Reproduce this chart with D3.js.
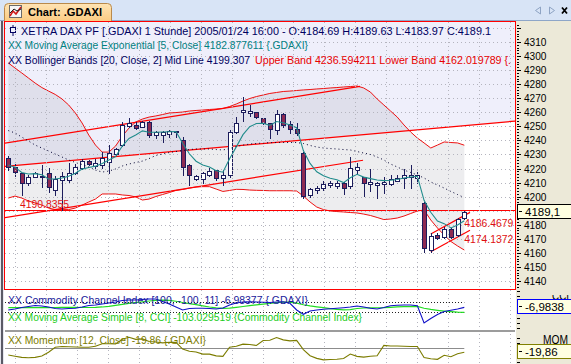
<!DOCTYPE html>
<html>
<head>
<meta charset="utf-8">
<script src="https://cdn.jsdelivr.net/npm/d3@7/dist/d3.min.js"></script>
<style>
  html, body { margin: 0; padding: 0; background: #ece9d8; }
  svg { display: block; font-family: "Liberation Sans", Arial, sans-serif; }
</style>
</head>
<body>
<div id="chart"></div>
<script>
// .GDAXI hourly bars, last bar 2005/01/24 16:00
const opens = [4227.3, 4221.3, 4216.6, 4209.9, 4214.2, 4214.7, 4216.6, 4204.7, 4211.8, 4211.8,
  4216.6, 4220.6, 4225.3, 4222.0, 4222.5, 4224.8, 4230.1, 4236.7, 4250.5, 4251.0,
  4249.8, 4253.3, 4243.8, 4243.8, 4244.5, 4246.2, 4240.3, 4222.5, 4212.3, 4212.3,
  4215.4, 4218.9, 4213.1, 4215.4, 4246.2, 4260.0, 4259.3, 4260.4, 4255.7, 4252.2,
  4247.4, 4258.6, 4251.5, 4247.9, 4231.3, 4201.2, 4204.7, 4205.9, 4208.3, 4207.6,
  4209.5, 4207.6, 4218.9, 4213.8, 4208.9, 4208.3, 4208.9, 4208.9, 4211.3, 4213.1,
  4213.8, 4213.1, 4195.7, 4162.0, 4172.7, 4171.1, 4176.8, 4172.7, 4184.69];
const highs = [4228.9, 4223.0, 4216.8, 4215.4, 4217.7, 4222.5, 4220.2, 4214.7, 4217.7, 4223.9,
  4223.2, 4226.5, 4226.1, 4226.5, 4232.0, 4236.7, 4234.6, 4252.9, 4255.7, 4252.9,
  4254.0, 4254.0, 4246.9, 4246.9, 4247.4, 4246.9, 4242.6, 4223.2, 4215.4, 4217.7,
  4220.2, 4218.9, 4218.9, 4247.4, 4256.4, 4270.7, 4265.2, 4260.4, 4256.1, 4252.6,
  4261.6, 4259.3, 4254.0, 4252.2, 4232.0, 4205.9, 4207.6, 4210.9, 4210.8, 4211.1,
  4210.6, 4228.4, 4224.1, 4214.2, 4219.4, 4210.6, 4213.8, 4215.4, 4215.4, 4219.4,
  4222.5, 4217.7, 4196.4, 4173.9, 4173.9, 4178.6, 4177.9, 4184.6, 4189.63];
const lows = [4218.9, 4214.7, 4201.2, 4208.3, 4213.8, 4207.1, 4203.5, 4201.2, 4190.84, 4210.6,
  4216.1, 4219.6, 4222.5, 4220.2, 4220.2, 4216.6, 4229.6, 4236.0, 4249.8, 4247.9,
  4249.3, 4242.6, 4241.5, 4239.1, 4242.6, 4242.6, 4215.4, 4208.3, 4211.8, 4209.5,
  4214.7, 4211.8, 4208.3, 4214.2, 4245.5, 4254.0, 4257.6, 4255.7, 4251.7, 4241.5,
  4244.3, 4249.8, 4245.1, 4243.8, 4198.8, 4199.5, 4202.6, 4205.0, 4206.6, 4205.9,
  4201.7, 4206.4, 4217.0, 4200.5, 4204.2, 4199.2, 4202.4, 4208.3, 4211.3, 4205.9,
  4205.9, 4209.5, 4160.8, 4160.8, 4169.7, 4170.4, 4170.4, 4172.0, 4183.97];
const closes = [4221.3, 4217.7, 4209.9, 4213.8, 4217.0, 4214.0, 4206.6, 4212.5, 4214.7, 4217.0,
  4220.9, 4225.3, 4223.0, 4223.7, 4227.3, 4230.8, 4233.7, 4251.0, 4252.2, 4248.6,
  4252.9, 4243.8, 4245.8, 4246.2, 4246.7, 4246.7, 4221.3, 4215.4, 4214.7, 4217.0,
  4218.2, 4213.1, 4215.4, 4246.2, 4252.2, 4261.6, 4260.9, 4256.4, 4252.6, 4247.9,
  4258.6, 4251.0, 4247.9, 4245.1, 4200.5, 4205.2, 4205.9, 4208.8, 4209.9, 4209.9,
  4205.9, 4220.2, 4220.9, 4209.9, 4210.6, 4209.9, 4210.6, 4212.3, 4213.1, 4215.4,
  4215.4, 4215.4, 4163.2, 4172.0, 4170.4, 4176.8, 4171.5, 4183.9, 4189.1];

// EMA(5) as drawn
const emaLine = [4222.5, 4221.0, 4217.2, 4216.1, 4216.4, 4215.6, 4212.6, 4212.6, 4213.3, 4214.5,
  4216.7, 4219.6, 4220.7, 4221.7, 4223.6, 4226.0, 4228.5, 4236.0, 4241.4, 4243.8,
  4246.8, 4245.8, 4245.8, 4246.0, 4246.2, 4246.3, 4238.0, 4230.5, 4225.2, 4222.5,
  4221.1, 4218.4, 4217.4, 4227.0, 4235.4, 4244.1, 4249.8, 4252.0, 4252.2, 4250.7,
  4253.4, 4252.6, 4251.0, 4249.0, 4232.8, 4223.6, 4217.7, 4214.8, 4213.1, 4212.0,
  4210.0, 4213.4, 4215.9, 4213.9, 4212.8, 4211.8, 4211.4, 4211.7, 4212.2, 4213.3,
  4214.0, 4214.5, 4197.4, 4188.9, 4182.7, 4180.8, 4177.7, 4179.8, 4182.88];

// Bollinger bands (20, 2)
const bandUpper = [4295.1, 4291.5, 4288.0, 4284.4, 4280.8, 4277.6, 4275.1, 4272.7, 4269.5, 4265.2,
  4259.5, 4252.4, 4243.8, 4236.7, 4231.7, 4231.7, 4236.0, 4243.1, 4248.8, 4253.1,
  4255.2, 4256.6, 4257.4, 4258.4, 4259.5, 4259.8, 4260.2, 4260.9, 4261.3, 4261.6,
  4262.0, 4262.3, 4262.7, 4264.1, 4265.9, 4268.0, 4269.8, 4271.2, 4272.3, 4273.4,
  4274.1, 4274.8, 4275.1, 4275.5, 4275.9, 4276.2, 4276.6, 4276.9, 4277.3, 4277.6,
  4278.0, 4278.3, 4278.7, 4277.3, 4274.4, 4269.5, 4265.2, 4260.9, 4256.6, 4251.0,
  4246.0, 4241.7, 4238.2, 4234.6, 4236.7, 4238.9, 4238.5, 4238.2, 4236.59];
const bandMid = [4247.0, 4245.3, 4242.4, 4239.6, 4236.7, 4234.6, 4232.5, 4230.3, 4228.2, 4226.1,
  4224.3, 4222.9, 4221.1, 4218.9, 4217.5, 4218.2, 4219.7, 4221.8, 4223.2, 4224.3,
  4225.3, 4227.1, 4229.3, 4230.3, 4231.4, 4232.1, 4232.8, 4233.5, 4233.9, 4233.9,
  4233.9, 4233.5, 4233.2, 4234.2, 4235.7, 4236.7, 4237.4, 4237.8, 4238.2, 4238.4,
  4238.5, 4238.5, 4238.5, 4238.5, 4237.8, 4236.4, 4235.3, 4234.6, 4234.2, 4233.9,
  4233.5, 4233.2, 4232.1, 4231.0, 4230.0, 4228.2, 4226.1, 4223.2, 4221.1, 4218.9,
  4217.2, 4215.4, 4213.3, 4210.4, 4208.3, 4206.1, 4203.7, 4201.5, 4199.307];
const bandLower = [4199.0, 4200.4, 4199.0, 4196.9, 4195.5, 4194.0, 4191.9, 4190.8, 4190.8, 4190.8,
  4191.9, 4194.0, 4196.2, 4198.3, 4201.9, 4201.9, 4201.9, 4201.2, 4200.8, 4199.8,
  4197.6, 4198.3, 4200.1, 4201.5, 4202.9, 4204.4, 4205.1, 4206.1, 4206.9, 4207.1,
  4207.1, 4205.4, 4203.7, 4204.4, 4205.2, 4205.1, 4204.7, 4204.5, 4204.4, 4204.2,
  4204.2, 4204.2, 4204.2, 4204.0, 4200.4, 4196.2, 4192.6, 4190.8, 4189.8, 4189.4,
  4189.1, 4188.7, 4188.4, 4187.6, 4186.6, 4185.2, 4183.7, 4184.1, 4184.8, 4186.2,
  4188.0, 4189.8, 4190.5, 4183.4, 4177.7, 4172.7, 4168.1, 4164.9, 4162.02];

// CCI (100, -100, 11) and its 8-bar average
const cciValues = [-56.6, -37.7, -9.4, 9.4, 28.3, 18.9, 0, -28.3, -37.7, -28.3,
  -24.5, 0, 28.3, 37.7, 56.6, 75.5, 94.3, 122.6, 132.1, 132.1,
  141.5, 151.0, 151.0, 103.8, 56.6, 0, -56.6, -28.3, -24.5, -24.5,
  -28.3, -37.7, -18.9, 37.7, 75.5, 94.3, 100.0, 94.3, 88.7, 84.9,
  94.3, 100.0, 69.8, -56.6, -137.7, -75.5, -56.6, -43.4, -34.0, -24.5,
  -13.2, 0, 18.9, 0, -24.5, -37.7, -9.4, 24.5, 32.1, 37.7,
  37.7, 24.5, -301.9, -217.0, -141.5, -84.9, -62.3, -37.7, -6.98];
const cciAverage = [-12, -12, -11, -11, -10, -10, -10, -9.4, -7.1, -5.9,
  -7.8, -9.0, -9.0, -6.6, 0.5, 13.5, 30.0, 48.8, 68.4, 84.9,
  99.1, 113.2, 125.0, 128.6, 123.8, 108.5, 84.9, 64.9, 44.1, 22.2,
  -0.2, -17.9, -27.4, -22.6, -6.1, 9.2, 24.8, 39.6, 54.2, 69.6,
  83.7, 91.5, 90.8, 71.9, 42.2, 21.0, 2.8, -13.2, -29.3, -44.8,
  -55.2, -48.1, -28.5, -19.1, -15.1, -14.4, -11.3, -5.2, 0.5, 5.2,
  7.6, 10.6, -24.1, -46.5, -63.0, -76.7, -88.5, -97.9, -103.03];

// Momentum (12, Close)
const momentum = [-32, -37, -42, -44, -42, -36, -20, 2, 5, 4,
  3, 2, 1.7, 6.0, 17.4, 17.0, 16.7, 37.0, 45.6, 36.1,
  38.2, 26.8, 24.9, 20.9, 23.7, 23.0, -6.0, -15.4, -19.0, -28.0,
  -28.0, -35.5, -37.5, 2.4, 6.4, 15.4, 14.2, 9.7, 31.3, 32.5,
  43.9, 34.0, 29.7, 32.0, -8.0, -35.0, -46.3, -52.8, -51.0, -50.0,
  -46.7, -27.7, -37.7, -41.1, -37.3, -35.2, 10.1, 7.1, 7.2, 6.6,
  5.5, 5.5, -42.7, -48.2, -50.5, -33.1, -39.1, -26.0, -19.86];

// price axis levels
const priceTicks = [4310, 4300, 4290, 4280, 4270, 4260, 4250, 4240, 4230, 4220,
  4210, 4200, 4190, 4180, 4170, 4160, 4150, 4140];

// user drawings: [bar, price] end points
const trendLines = [
  [[-0.64, 4237.9], [52.45, 4278.4]],
  [[-0.64, 4221.4], [75.7, 4253.8]],
  [[-0.64, 4185.0], [52.9, 4225.9]],
  [[63, 4173.5], [68.85, 4188.8]],
  [[63, 4160.8], [68.85, 4176.1]]
];
const hLevel = 4190.8355;
const lineLabels = [
  { bar: 1.74, price: 4190.8355, dy: -2, text: '4190.8355' },
  { bar: 68, price: 4186.4679, dy: 11, text: '4186.4679' },
  { bar: 68, price: 4174.1372, dy: 10.3, text: '4174.1372' }
];

document.addEventListener('DOMContentLoaded', function() {
    const width = 571, height = 364;
    const navy = '#000060';
    const wick = '#1c1c5c';

    const svg = d3.select('#chart')
        .append('svg')
        .attr('width', width)
        .attr('height', height);

    // Scales
    const x = d3.scaleLinear().domain([0, 68]).range([8.3, 464.3]);
    const y = d3.scaleLinear().domain([4140, 4310]).range([281, 42]);
    const yCci = d3.scaleLinear().domain([-100, 100]).range([312.3, 301.7]);
    const yMom = d3.scaleLinear().domain([-20, 0]).range([352.3, 347.7]);
    const bars = d3.range(opens.length);

    const defs = svg.append('defs');
    defs.append('clipPath').attr('id', 'clip-main')
        .append('rect').attr('x', 5).attr('y', 22).attr('width', 510).attr('height', 267);
    defs.append('clipPath').attr('id', 'clip-low')
        .append('rect').attr('x', 5).attr('y', 291).attr('width', 510).attr('height', 73);
    defs.append('clipPath').attr('id', 'clip-cci-label')
        .append('rect').attr('x', 516).attr('y', 295).attr('width', 55).attr('height', 5.5);
    const tabGrad = defs.append('linearGradient').attr('id', 'tab-grad')
        .attr('x1', 0).attr('x2', 0).attr('y1', 0).attr('y2', 1);
    tabGrad.append('stop').attr('offset', '0%').attr('stop-color', '#ffe4b4');
    tabGrad.append('stop').attr('offset', '100%').attr('stop-color', '#fbcc84');

    // Tab bar
    svg.append('rect').attr('width', width).attr('height', 21).attr('fill', '#d8e4f6');
    svg.append('line').attr('x1', 0).attr('x2', width).attr('y1', 20.5).attr('y2', 20.5)
        .attr('stroke', '#8ea6c8');
    svg.append('path')
        .attr('d', 'M4.5,21 V7.5 Q4.5,3.5 8.5,3.5 H107.5 Q111.5,3.5 111.5,7.5 V21')
        .attr('fill', 'url(#tab-grad)').attr('stroke', '#b98a4c');
    // little chart icon
    svg.append('rect').attr('x', 9.5).attr('y', 5.5).attr('width', 12).attr('height', 12)
        .attr('fill', '#f6f6f6').attr('stroke', '#6a6a6a');
    svg.append('polyline').attr('points', '10,16 13,11 16,14 21,7')
        .attr('fill', 'none').attr('stroke', '#d01818').attr('stroke-width', 1.6);
    svg.append('polyline').attr('points', '10,13 14,9 17,11 21,9')
        .attr('fill', 'none').attr('stroke', '#202020').attr('stroke-width', 1);
    svg.append('text').attr('x', 28).attr('y', 15.5)
        .attr('font-size', '11.5px').attr('font-weight', 'bold').attr('fill', '#000')
        .attr('textLength', 74).attr('lengthAdjust', 'spacingAndGlyphs')
        .text('Chart: .GDAXI');
    // window buttons
    svg.append('path').attr('d', 'M540.5,7 L535.5,10.5 L540.5,14 Z')
        .attr('fill', 'none').attr('stroke', '#8fa4c4');
    svg.append('path').attr('d', 'M549.5,7 L554.5,10.5 L549.5,14 Z')
        .attr('fill', 'none').attr('stroke', '#8fa4c4');
    svg.append('path').attr('d', 'M562,7.5 L567,13.5 M567,7.5 L562,13.5')
        .attr('stroke', '#000').attr('stroke-width', 1.8);

    // Left frame
    svg.append('rect').attr('x', 0).attr('y', 21).attr('width', 4).attr('height', 343).attr('fill', '#e6e6ee');
    svg.append('line').attr('x1', 2).attr('x2', 2).attr('y1', 21).attr('y2', height)
        .attr('stroke', '#5a5a66').attr('stroke-width', 2);

    // Panel backgrounds
    svg.append('rect').attr('x', 4).attr('y', 21).attr('width', 512).attr('height', 343).attr('fill', '#ffffff');

    const main = svg.append('g').attr('clip-path', 'url(#clip-main)');
    const upperLine = trendLines[1];
    main.append('path')
        .attr('d', d3.line()([
            [x(upperLine[0][0]), 0], [x(upperLine[1][0]), 0],
            [x(upperLine[1][0]), y(upperLine[1][1])], [x(upperLine[0][0]), y(upperLine[0][1])]
        ]))
        .attr('fill', '#efeffb');

    // Bollinger band fill
    main.append('path')
        .datum(bars)
        .attr('d', d3.area()
            .x(i => x(i))
            .y0(i => y(bandLower[i]))
            .y1(i => y(bandUpper[i])))
        .attr('fill', '#6e6e7e').attr('fill-opacity', 0.12);

    // Grid
    const gridX = d3.range(1, 77, 4.614).map(b => Math.round(x(b)) + 0.5).filter(v => v < 515);
    main.append('g').selectAll('line').data(priceTicks.concat([4320])).enter().append('line')
        .attr('x1', 5).attr('x2', 515)
        .attr('y1', d => Math.round(y(d)) + 0.5).attr('y2', d => Math.round(y(d)) + 0.5)
        .attr('stroke', '#b4b4be').attr('stroke-dasharray', '1,3');
    svg.append('g').selectAll('line').data(gridX).enter().append('line')
        .attr('x1', d => d).attr('x2', d => d)
        .attr('y1', 22).attr('y2', height)
        .attr('stroke', '#b4b4be').attr('stroke-dasharray', '1,3');

    // Band lines
    const priceLine = arr => d3.line().x((d, i) => x(i)).y(d => y(d))(arr);
    main.append('path').attr('d', priceLine(bandUpper))
        .attr('fill', 'none').attr('stroke', '#ee1111');
    main.append('path').attr('d', priceLine(bandLower))
        .attr('fill', 'none').attr('stroke', '#ee1111');

    // Trend lines and level
    main.append('g').selectAll('line').data(trendLines).enter().append('line')
        .attr('x1', d => x(d[0][0])).attr('y1', d => y(d[0][1]))
        .attr('x2', d => x(d[1][0])).attr('y2', d => y(d[1][1]))
        .attr('stroke', '#ff0000').attr('stroke-width', 1.2);
    main.append('line')
        .attr('x1', 5).attr('x2', 515)
        .attr('y1', Math.round(y(hLevel)) + 0.5).attr('y2', Math.round(y(hLevel)) + 0.5)
        .attr('stroke', '#ff0000').attr('stroke-width', 1.2);

    // Candles
    const candles = bars.map(i => ({ i, o: opens[i], h: highs[i], l: lows[i], c: closes[i] }));
    const cg = main.append('g').attr('class', 'candles');
    cg.selectAll('line').data(candles).enter().append('line')
        .attr('x1', d => Math.round(x(d.i)) + 0.5).attr('x2', d => Math.round(x(d.i)) + 0.5)
        .attr('y1', d => Math.round(y(d.h))).attr('y2', d => Math.round(y(d.l)) + 1)
        .attr('stroke', wick);
    cg.selectAll('rect').data(candles).enter().append('rect')
        .attr('x', d => Math.round(x(d.i)) - 1.5)
        .attr('y', d => Math.round(y(Math.max(d.o, d.c))) + 0.5)
        .attr('width', 4)
        .attr('height', d => Math.max(1, Math.round(y(Math.min(d.o, d.c))) - Math.round(y(Math.max(d.o, d.c)))))
        .attr('fill', d => d.c >= d.o ? '#ffffff' : '#8e2a52')
        .attr('stroke', wick);

    // EMA and mid line
    main.append('path').attr('d', priceLine(emaLine))
        .attr('fill', 'none').attr('stroke', '#218c8c').attr('stroke-width', 1.1);
    main.append('path').attr('d', priceLine(bandMid))
        .attr('fill', 'none').attr('stroke', '#000030').attr('stroke-dasharray', '1,3');

    // Line labels
    main.append('g').selectAll('text').data(lineLabels).enter().append('text')
        .attr('x', d => x(d.bar)).attr('y', d => y(d.price) + d.dy)
        .attr('font-size', '11.5px').attr('fill', '#e01010')
        .attr('textLength', 49).attr('lengthAdjust', 'spacingAndGlyphs')
        .text(d => d.text);

    // Header lines
    const head = main.append('g');
    head.append('line').attr('x1', 13).attr('x2', 13).attr('y1', 25).attr('y2', 36).attr('stroke', navy);
    head.append('rect').attr('x', 10.5).attr('y', 27.5).attr('width', 5).attr('height', 5)
        .attr('fill', '#efeffb').attr('stroke', navy);
    const headText = (tx, ty, str, color, len) => head.append('text')
        .attr('x', tx).attr('y', ty).attr('font-size', '11px').attr('fill', color)
        .attr('textLength', len).attr('lengthAdjust', 'spacingAndGlyphs').text(str);
    headText(21, 35, 'XETRA DAX PF [.GDAXI  1 Stunde] 2005/01/24 16:00 - O:4184.69 H:4189.63 L:4183.97 C:4189.1', navy, 470);
    headText(8, 49, 'XX Moving Average Exponential [5, Close] 4182.877611 {.GDAXI}', '#008080', 300);
    headText(8, 63.5, 'XX Bollinger Bands [20, Close, 2] Mid Line 4199.307', navy, 242);
    headText(255, 63.5, 'Upper Band 4236.594211 Lower Band 4162.019789 {.', '#e80000', 256);

    // Main frame
    svg.append('rect').attr('x', 4.5).attr('y', 21.5).attr('width', 511).attr('height', 268)
        .attr('fill', 'none').attr('stroke', '#ff0000');

    // Lower panels
    const low = svg.append('g').attr('clip-path', 'url(#clip-low)');
    low.append('g').selectAll('line').data([100, -100]).enter().append('line')
        .attr('x1', 5).attr('x2', x(68))
        .attr('y1', d => Math.round(yCci(d)) + 0.5).attr('y2', d => Math.round(yCci(d)) + 0.5)
        .attr('stroke', '#222').attr('stroke-dasharray', '1,2');
    low.append('rect').attr('x', 4).attr('y', 330).attr('width', 512).attr('height', 2).attr('fill', '#9c9c9c');
    low.append('line').attr('x1', 5).attr('x2', x(68))
        .attr('y1', Math.round(yMom(0)) + 0.5).attr('y2', Math.round(yMom(0)) + 0.5)
        .attr('stroke', '#8c8c8c');

    low.append('path').attr('d', d3.line().x((d, i) => x(i)).y(d => yCci(d))(cciAverage))
        .attr('fill', 'none').attr('stroke', '#22dd22').attr('stroke-width', 1.2);
    low.append('path').attr('d', d3.line().x((d, i) => x(i)).y(d => yCci(d))(cciValues))
        .attr('fill', 'none').attr('stroke', '#1010c8').attr('stroke-width', 1.1);
    low.append('path').attr('d', d3.line().x((d, i) => x(i)).y(d => yMom(d))(momentum))
        .attr('fill', 'none').attr('stroke', '#7c7c00').attr('stroke-width', 1.1);

    const lowText = (ty, str, color, len) => low.append('text')
        .attr('x', 8).attr('y', ty).attr('font-size', '11px').attr('fill', color)
        .attr('textLength', len).attr('lengthAdjust', 'spacingAndGlyphs').text(str);
    lowText(304, 'XX Commodity Channel Index [100, -100, 11] -6.98377 {.GDAXI}', '#1a1a9a', 300);
    lowText(320.5, 'XX Moving Average Simple [8, CCI] -103.029519 {Commodity Channel Index}', '#22cc22', 354);
    lowText(344, 'XX Momentum [12, Close] -19.86 {.GDAXI}', '#7c7c00', 198);

    // Right axis
    const axis = svg.append('g');
    axis.append('rect').attr('x', 516).attr('y', 21).attr('width', 55).attr('height', 343).attr('fill', '#ece9d8');
    const minor = d3.range(4136, 4324, 2).filter(p => y(p) > 22 && y(p) < 289);
    axis.selectAll('line.minor').data(minor).enter().append('line')
        .attr('x1', 517).attr('x2', d => d % 10 === 0 ? 521 : 519)
        .attr('y1', d => Math.round(y(d)) + 0.5).attr('y2', d => Math.round(y(d)) + 0.5)
        .attr('stroke', '#000');
    // labels hidden behind the last-price box are skipped
    const lastY = y(closes[68]);
    axis.selectAll('text.price').data(priceTicks.filter(t => Math.abs(y(t) - lastY) > 8)).enter().append('text')
        .attr('x', 524).attr('y', d => y(d) + 4)
        .attr('font-size', '11.5px').attr('fill', '#000')
        .attr('textLength', 22.5).attr('lengthAdjust', 'spacingAndGlyphs')
        .text(d => d);
    axis.selectAll('line.cci').data([300, 200, -200, -300, -400]).enter().append('line')
        .attr('x1', 517).attr('x2', 520)
        .attr('y1', d => Math.round(yCci(d)) + 0.5).attr('y2', d => Math.round(yCci(d)) + 0.5)
        .attr('stroke', '#000');
    axis.selectAll('line.mom').data([40, 20, -40, -60]).enter().append('line')
        .attr('x1', 517).attr('x2', 520)
        .attr('y1', d => Math.round(yMom(d)) + 0.5).attr('y2', d => Math.round(yMom(d)) + 0.5)
        .attr('stroke', '#000');
    axis.append('text').attr('x', 552).attr('y', 300).attr('font-size', '12px')
        .attr('textLength', 17).attr('lengthAdjust', 'spacingAndGlyphs')
        .attr('clip-path', 'url(#clip-cci-label)').text('CCI');
    axis.append('text').attr('x', 543).attr('y', 344).attr('font-size', '12px')
        .attr('textLength', 25).attr('lengthAdjust', 'spacingAndGlyphs').text('MOM');

    // Last value boxes
    const valueBox = (cy, str, color) => {
        const top = Math.round(cy) - 7.5;
        axis.append('rect').attr('x', 517.5).attr('y', top).attr('width', 60).attr('height', 14)
            .attr('fill', '#ffffe1').attr('stroke', color);
        axis.append('line').attr('x1', 519).attr('x2', 522)
            .attr('y1', top + 7).attr('y2', top + 7).attr('stroke', '#000');
        axis.append('text').attr('x', 525).attr('y', top + 11)
            .attr('font-size', '11.5px').attr('fill', '#000').text(str);
    };
    valueBox(lastY, '4189,1', '#000000');
    valueBox(yCci(cciValues[68]), '-6,9838', '#0000ff');
    valueBox(yMom(momentum[68]), '-19,86', '#808000');
});
</script>
</body>
</html>
